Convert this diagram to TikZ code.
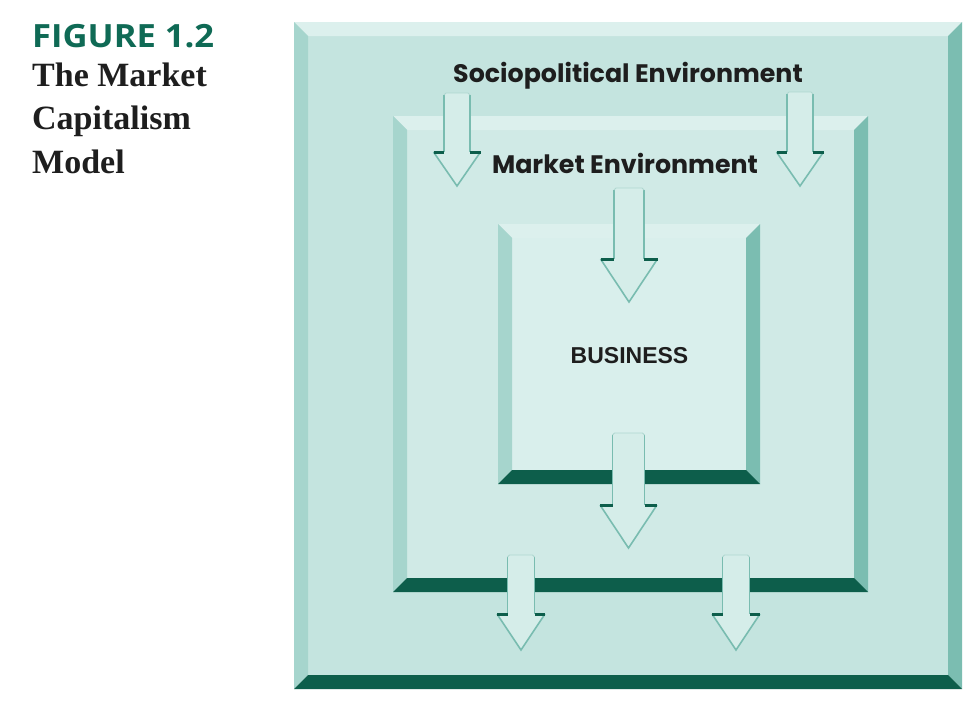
\documentclass[tikz,border=0pt]{standalone}
\usepackage{fontspec}
\setmainfont{Liberation Serif}
\newfontfamily\geofont{Poppins}
\newfontfamily\figfont{Open Sans}[FakeStretch=1.08]
\newfontfamily\busfont{Liberation Sans}
\definecolor{figgreen}{HTML}{0F6A55}
\definecolor{txtdark}{HTML}{1E1E1E}
\definecolor{outerface}{HTML}{C4E4DF}
\definecolor{midface}{HTML}{D0EAE6}
\definecolor{innerface}{HTML}{D9EFEC}
\definecolor{bevtop}{HTML}{DCF0ED}
\definecolor{bevleft}{HTML}{A6D5CD}
\definecolor{bevright}{HTML}{7BBDB1}
\definecolor{bevbottom}{HTML}{0D5E4B}
\definecolor{arrowline}{HTML}{79BCB0}
\definecolor{arrowfill}{HTML}{D5EDE9}
\tikzset{
  envlabel/.style={anchor=base, inner sep=0pt, text=txtdark, font=\geofont\bfseries\fontsize{25.3}{29}\selectfont},
  buslabel/.style={anchor=base, inner sep=0pt, text=txtdark, font=\busfont\bfseries\fontsize{23}{26}\selectfont},
  figlabel/.style={anchor=base west, inner sep=0pt, text=figgreen, font=\figfont\bfseries\fontsize{32}{36}\selectfont},
  titlelabel/.style={anchor=base west, inner sep=0pt, text=txtdark, font=\bfseries\fontsize{34}{40}\selectfont},
  shaftside/.style={draw=arrowline, line width=1.3pt},
  headside/.style={draw=arrowline, line width=1.6pt, line join=miter},
  ledge/.style={draw=bevbottom, line width=3pt},
}
% x1 y1 x2 y2 bevel facecolor
\newcommand\bevframe[6]{%
  \fill[#6] ({#1+#5},{#2+#5}) rectangle ({#3-#5},{#4-#5});
  \fill[bevtop] (#1,#2) -- (#3,#2) -- ({#3-#5},{#2+#5}) -- ({#1+#5},{#2+#5}) -- cycle;
  \fill[bevleft] (#1,#2) -- ({#1+#5},{#2+#5}) -- ({#1+#5},{#4-#5}) -- (#1,#4) -- cycle;
  \fill[bevright] (#3,#2) -- (#3,#4) -- ({#3-#5},{#4-#5}) -- ({#3-#5},{#2+#5}) -- cycle;
  \fill[bevbottom] (#1,#4) -- (#3,#4) -- ({#3-#5},{#4-#5}) -- ({#1+#5},{#4-#5}) -- cycle;
}
% name cx shafttop headtop tip shaftw headw
\newcommand\blockarrow[7]{%
  \coordinate (#1) at (#2,#3);
  \fill[arrowfill] ({#2-#6/2},#4) -- ({#2-#6/2},{#3+2}) -- ({#2-#6/2+2},#3) -- ({#2+#6/2-2},#3) -- ({#2+#6/2},{#3+2}) -- ({#2+#6/2},#4) -- cycle;
  \draw[shaftside] ({#2-#6/2},#4) -- ({#2-#6/2},{#3+2});
  \draw[shaftside] ({#2+#6/2},#4) -- ({#2+#6/2},{#3+2});
  \draw[draw=arrowline!60, line width=0.8pt] ({#2-#6/2},{#3+2}) -- ({#2-#6/2+2},#3) -- ({#2+#6/2-2},#3) -- ({#2+#6/2},{#3+2});
  \fill[arrowfill] ({#2-#7/2},#4) -- (#2,#5) -- ({#2+#7/2},#4) -- cycle;
  \draw[headside] ({#2-#7/2},#4) -- (#2,#5) -- ({#2+#7/2},#4);
  \draw[ledge] ({#2-#7/2},{#4+0.5}) -- ({#2-#6/2},{#4+0.5});
  \draw[ledge] ({#2+#6/2},{#4+0.5}) -- ({#2+#7/2},{#4+0.5});
}
\begin{document}
\begin{tikzpicture}[x=1pt,y=-1pt]
\useasboundingbox (0,0) rectangle (971,707);
\fill[white] (0,0) rectangle (971,707);

% frames
\bevframe{294}{22}{962}{689}{14}{outerface}
\bevframe{393}{116}{868}{592}{14}{midface}
\bevframe{498}{224}{760}{484}{14}{innerface}

% arrows
\blockarrow{a1}{457}{93}{152}{186}{26}{47}
\blockarrow{a2}{800}{92}{152}{186}{26}{47}
\blockarrow{a3}{629}{188}{259}{302}{30}{57}
\blockarrow{a4}{628.5}{433}{505}{548}{32}{57}
\blockarrow{a5}{521}{555}{614}{650}{27}{48}
\blockarrow{a6}{736}{555}{614}{650}{27}{48}

% labels
\node[envlabel] (socio) at (628,82) {Sociopolitical Environment};
\node[envlabel] (market) at (625,173) {Market Environment};
\node[buslabel] (business) at (629.5,363) {BUSINESS};

\node[figlabel] (fig) at (32,47) {FIGURE 1.2};
\node[titlelabel] (t1) at (32,86) {The Market};
\node[titlelabel] (t2) at (32,129) {Capitalism};
\node[titlelabel] (t3) at (32,173) {Model};
\end{tikzpicture}
\end{document}
